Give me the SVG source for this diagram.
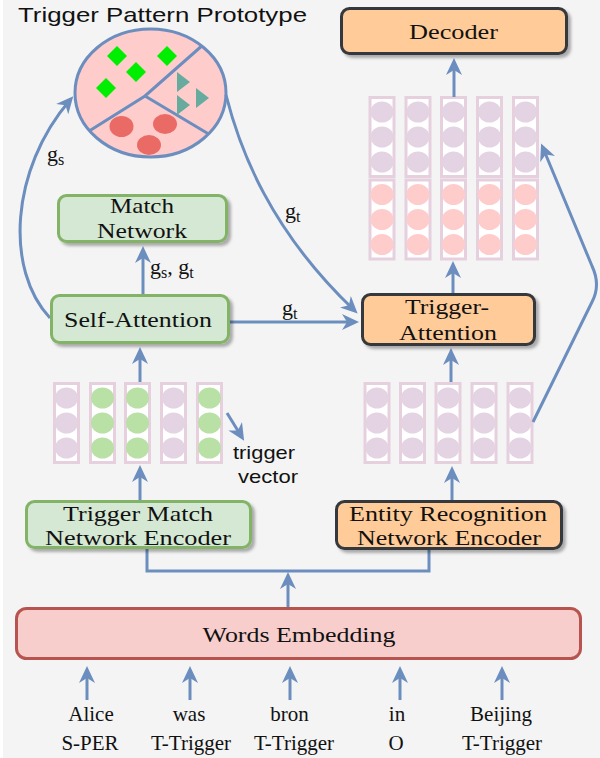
<svg xmlns="http://www.w3.org/2000/svg" xmlns:xlink="http://www.w3.org/1999/xlink" width="600" height="758" viewBox="0 0 600 758">
<style>
.serif{font-family:"Liberation Serif","Times New Roman",serif;fill:#111;}
.sans{font-family:"Liberation Sans",Arial,sans-serif;fill:#111;}
.box{font-size:22px;text-anchor:middle;}
.word{font-size:21px;text-anchor:middle;}
.lbl{font-size:22px;}
.con{fill:none;stroke:#6c8ebf;stroke-width:3;}
.arr{marker-end:url(#ah);}
.green{fill:#d5e8d4;stroke:#82b366;stroke-width:3;}
.orange{fill:#ffcc99;stroke:#36393d;stroke-width:3;}
.red{fill:#f8cecc;stroke:#b85450;stroke-width:3;}
.colr{fill:#ffffff;stroke:#e6d0de;stroke-width:3;}
</style>
<defs>
<marker id="ah" markerUnits="userSpaceOnUse" markerWidth="18" markerHeight="16" refX="12" refY="8" orient="auto">
<path d="M0,0 L17,8 L0,16 L5,8 Z" fill="#6c8ebf"/>
</marker>
<filter id="sh" x="-10%" y="-20%" width="130%" height="150%">
<feDropShadow dx="3" dy="3" stdDeviation="1.5" flood-color="#000" flood-opacity="0.3"/>
</filter>
<clipPath id="circ"><ellipse cx="150.5" cy="93" rx="75.5" ry="64"/></clipPath>
<g id="colP">
<rect class="colr" x="-12" y="0" width="24" height="79"/>
<ellipse cx="0" cy="14.5" rx="11.5" ry="10.5" fill="#e4d3e2"/>
<ellipse cx="0" cy="39.5" rx="11.5" ry="10.5" fill="#e4d3e2"/>
<ellipse cx="0" cy="64.5" rx="11.5" ry="10.5" fill="#e4d3e2"/>
</g>
<g id="colG">
<rect class="colr" x="-12" y="0" width="24" height="79"/>
<ellipse cx="0" cy="14.5" rx="11.5" ry="10.5" fill="#b9e0a5"/>
<ellipse cx="0" cy="39.5" rx="11.5" ry="10.5" fill="#b9e0a5"/>
<ellipse cx="0" cy="64.5" rx="11.5" ry="10.5" fill="#b9e0a5"/>
</g>
<g id="colR">
<rect class="colr" x="-12" y="0" width="24" height="79"/>
<ellipse cx="0" cy="14.5" rx="11.5" ry="10.5" fill="#ffcccc"/>
<ellipse cx="0" cy="39.5" rx="11.5" ry="10.5" fill="#ffcccc"/>
<ellipse cx="0" cy="64.5" rx="11.5" ry="10.5" fill="#ffcccc"/>
</g>
</defs>

<rect x="0" y="0" width="600" height="758" fill="#ffffff"/>
<rect x="3" y="0" width="597" height="758" fill="#f4f4f4"/>

<text class="sans" x="18" y="22" font-size="21" textLength="289" lengthAdjust="spacingAndGlyphs">Trigger Pattern Prototype</text>

<g id="prototype">
<ellipse cx="150.5" cy="93" rx="75.5" ry="64" fill="#ffcccc"/>
<g clip-path="url(#circ)">
<path d="M204,44 L145,96 L86,133 M145,96 L212,136" fill="none" stroke="#6c8ebf" stroke-width="3"/>
</g>
<ellipse cx="150.5" cy="93" rx="75.5" ry="64" fill="none" stroke="#6c8ebf" stroke-width="3"/>
<g fill="#00ee00">
<path d="M117,46 L127,56 L117,66 L107,56 Z"/>
<path d="M136,62 L146,72 L136,82 L126,72 Z"/>
<path d="M167,46 L177,56 L167,66 L157,56 Z"/>
<path d="M106,78 L116,88 L106,98 L96,88 Z"/>
</g>
<g fill="#67ab9f">
<path d="M177,72 L190,82 L177,92 Z"/>
<path d="M177,95 L190,105 L177,115 Z"/>
<path d="M196,88 L209,98 L196,108 Z"/>
</g>
<g fill="#ea6b66">
<ellipse cx="121.5" cy="126.5" rx="12" ry="10.5"/>
<ellipse cx="165" cy="124" rx="12" ry="10"/>
<ellipse cx="149" cy="145" rx="12" ry="10"/>
</g>
</g>

<g id="stack-top-right">
<use xlink:href="#colP" x="382" y="97.5"/>
<use xlink:href="#colP" x="418" y="97.5"/>
<use xlink:href="#colP" x="453.5" y="97.5"/>
<use xlink:href="#colP" x="489.5" y="97.5"/>
<use xlink:href="#colP" x="525.5" y="97.5"/>
<use xlink:href="#colR" x="382" y="180"/>
<use xlink:href="#colR" x="418" y="180"/>
<use xlink:href="#colR" x="453.5" y="180"/>
<use xlink:href="#colR" x="489.5" y="180"/>
<use xlink:href="#colR" x="525.5" y="180"/>
</g>

<g id="stack-trigger">
<use xlink:href="#colP" x="66.5" y="383.5"/>
<use xlink:href="#colG" x="102.5" y="383.5"/>
<use xlink:href="#colG" x="137.5" y="383.5"/>
<use xlink:href="#colP" x="173.5" y="383.5"/>
<use xlink:href="#colG" x="209.5" y="383.5"/>
</g>

<g id="stack-entity">
<use xlink:href="#colP" x="377" y="383.5"/>
<use xlink:href="#colP" x="412.5" y="383.5"/>
<use xlink:href="#colP" x="448" y="383.5"/>
<use xlink:href="#colP" x="484" y="383.5"/>
<use xlink:href="#colP" x="520" y="383.5"/>
</g>

<g id="connectors">
<path class="con arr" d="M87,700 V671"/>
<path class="con arr" d="M190,700 V671"/>
<path class="con arr" d="M290,700 V671"/>
<path class="con arr" d="M400,700 V671"/>
<path class="con arr" d="M502,700 V671"/>
<path class="con arr" d="M288,607 V577"/>
<path class="con" d="M147,549 V571 H429 V550"/>
<path class="con arr" d="M140,500 V470"/>
<path class="con arr" d="M452,500 V471"/>
<path class="con arr" d="M140,382 V352"/>
<path class="con arr" d="M451,382 V353"/>
<path class="con arr" d="M143,294 V251"/>
<path class="con arr" d="M230,322 H354"/>
<path class="con arr" d="M226,95 C240,150 270,230 354,310"/>
<path class="con arr" d="M50,318 C5,270 10,170 70,100"/>
<path class="con arr" d="M453,293 V266"/>
<path class="con arr" d="M454,97 V63"/>
<path class="con arr" d="M533,422 L592,302 Q601,285 592,266 L543,148"/>
<path class="con arr" d="M227,413 L241.5,436.5"/>
</g>

<g id="labels">
<text class="serif lbl" x="47" y="161">g<tspan font-size="16" dy="4">s</tspan></text>
<text class="serif lbl" x="285" y="218">g<tspan font-size="16" dy="4">t</tspan></text>
<text class="serif lbl" x="282" y="315">g<tspan font-size="16" dy="4">t</tspan></text>
<text class="serif lbl" x="150" y="274">g<tspan font-size="16" dy="4">s</tspan><tspan dy="-4">, g</tspan><tspan font-size="16" dy="4">t</tspan></text>
<text class="sans" x="233" y="459" font-size="19" textLength="62" lengthAdjust="spacingAndGlyphs">trigger</text>
<text class="sans" x="238" y="483" font-size="19" textLength="60" lengthAdjust="spacingAndGlyphs">vector</text>
</g>

<g id="decoder">
<rect class="orange" x="341.5" y="8.5" width="225" height="45" rx="8" filter="url(#sh)"/>
<text class="serif box" x="453.5" y="39" textLength="89" lengthAdjust="spacingAndGlyphs">Decoder</text>
</g>

<g id="match-network">
<rect class="green" x="58.5" y="195.5" width="168" height="46" rx="8" filter="url(#sh)"/>
<text class="serif box" x="142" y="213" textLength="64" lengthAdjust="spacingAndGlyphs">Match</text>
<text class="serif box" x="142" y="238" textLength="90" lengthAdjust="spacingAndGlyphs">Network</text>
</g>

<g id="self-attention">
<rect class="green" x="51.5" y="295.5" width="177" height="47" rx="8" filter="url(#sh)"/>
<text class="serif box" x="138" y="327" textLength="148" lengthAdjust="spacingAndGlyphs">Self-Attention</text>
</g>

<g id="trigger-attention">
<rect class="orange" x="362.5" y="294.5" width="172" height="50" rx="8" filter="url(#sh)"/>
<text class="serif box" x="447" y="314" textLength="84" lengthAdjust="spacingAndGlyphs">Trigger-</text>
<text class="serif box" x="448" y="340" textLength="98" lengthAdjust="spacingAndGlyphs">Attention</text>
</g>

<g id="trigger-match-encoder">
<rect class="green" x="26.5" y="501.5" width="224" height="46" rx="8" filter="url(#sh)"/>
<text class="serif box" x="138" y="521" textLength="150" lengthAdjust="spacingAndGlyphs">Trigger Match</text>
<text class="serif box" x="138" y="545" textLength="186" lengthAdjust="spacingAndGlyphs">Network Encoder</text>
</g>

<g id="entity-encoder">
<rect class="orange" x="336.5" y="501.5" width="225" height="47" rx="8" filter="url(#sh)"/>
<text class="serif box" x="448" y="521" textLength="198" lengthAdjust="spacingAndGlyphs">Entity Recognition</text>
<text class="serif box" x="449" y="545" textLength="184" lengthAdjust="spacingAndGlyphs">Network Encoder</text>
</g>

<g id="words-embedding">
<rect class="red" x="16.5" y="608.5" width="564" height="50" rx="10"/>
<text class="serif box" x="299" y="642" textLength="193" lengthAdjust="spacingAndGlyphs">Words Embedding</text>
</g>

<g id="words">
<text class="serif word" x="91" y="721">Alice</text>
<text class="serif word" x="189" y="721">was</text>
<text class="serif word" x="289.5" y="721">bron</text>
<text class="serif word" x="397" y="721">in</text>
<text class="serif word" x="501" y="721">Beijing</text>
<text class="serif word" x="90" y="750">S-PER</text>
<text class="serif word" x="191" y="750">T-Trigger</text>
<text class="serif word" x="294" y="750">T-Trigger</text>
<text class="serif word" x="396" y="750">O</text>
<text class="serif word" x="502" y="750">T-Trigger</text>
</g>
</svg>
